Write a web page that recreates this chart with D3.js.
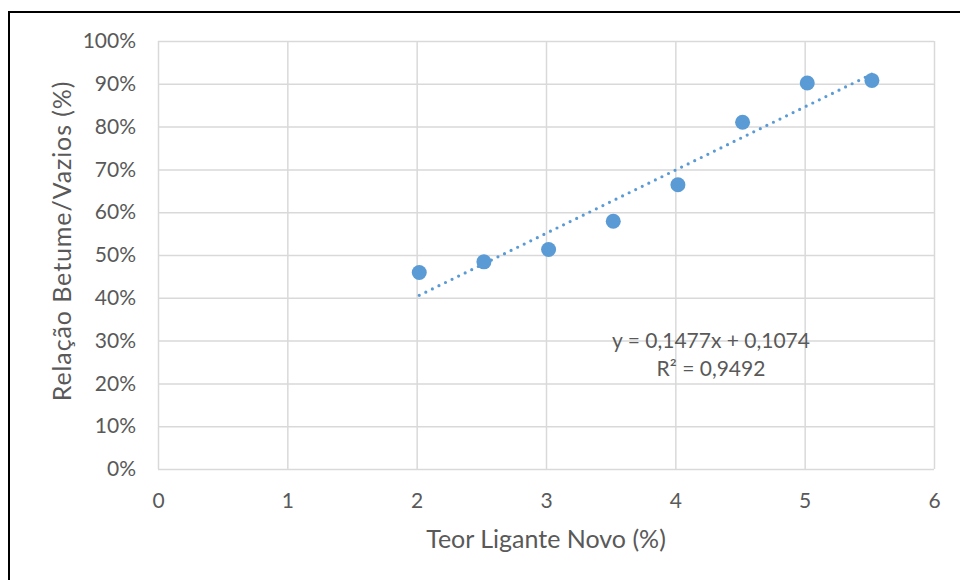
<!DOCTYPE html>
<html>
<head>
<meta charset="utf-8">
<script src="https://cdn.jsdelivr.net/npm/d3@7"></script>
<style>
  body { margin: 0; background: #fff; }
  text { font-family: Lato, "Open Sans", sans-serif; fill: #595959; }
</style>
</head>
<body>
<script>
// data
const teorLigante = [2.02, 2.52, 3.02, 3.52, 4.02, 4.52, 5.02, 5.52]
const relacaoBV = [0.459, 0.484, 0.513, 0.579, 0.664, 0.810, 0.902, 0.908]
const xTicks = [0, 1, 2, 3, 4, 5, 6]
const yTicks = [0, 0.1, 0.2, 0.3, 0.4, 0.5, 0.6, 0.7, 0.8, 0.9, 1.0]
const trendSlope = 0.1477
const trendIntercept = 0.1074
const trendLabel = ['y = 0,1477x + 0,1074', 'R² = 0,9492']

const w = 960
const h = 580
const plotL = 158, plotR = 934, plotT = 41, plotB = 469

const svg = d3.select('body').append('svg')
  .attr('width', w)
  .attr('height', h)

// outer chart frame (only top and left edges show)
svg.append('rect')
  .attr('x', 9)
  .attr('y', 12)
  .attr('width', w + 20)
  .attr('height', h + 20)
  .style('fill', 'none')
  .style('stroke', '#000')
  .style('stroke-width', 2)

const x = d3.scaleLinear().domain([0, 6]).range([plotL, plotR])
const y = d3.scaleLinear().domain([0, 1]).range([plotB, plotT])

const gridColor = '#d9d9d9'

// gridlines
svg.append('g')
  .attr('transform', `translate(0,${plotB})`)
  .call(d3.axisBottom(x).tickValues(xTicks).tickSize(-(plotB - plotT)).tickFormat(''))
  .call(g => g.select('.domain').remove())
  .selectAll('line').style('stroke', gridColor).style('stroke-width', 1.5)

svg.append('g')
  .attr('transform', `translate(${plotL},0)`)
  .call(d3.axisLeft(y).tickValues(yTicks).tickSize(-(plotR - plotL)).tickFormat(''))
  .call(g => g.select('.domain').remove())
  .selectAll('line').style('stroke', gridColor).style('stroke-width', 1.5)

// tick labels
const xAxis = svg.append('g')
  .attr('transform', `translate(0,${plotB})`)
  .call(d3.axisBottom(x).tickValues(xTicks).tickSize(0).tickPadding(24)
    .tickFormat(d3.format('d')))
xAxis.select('.domain').remove()
xAxis.selectAll('text').style('font-size', '21px').style('fill', '#595959')
  .style('font-family', 'Lato, sans-serif')

const yAxis = svg.append('g')
  .attr('transform', `translate(${plotL},0)`)
  .call(d3.axisLeft(y).tickValues(yTicks).tickSize(0).tickPadding(22)
    .tickFormat(d3.format('.0%')))
yAxis.select('.domain').remove()
yAxis.selectAll('text').style('font-size', '21px').style('fill', '#595959')
  .style('font-family', 'Lato, sans-serif')

// axis titles
svg.append('text')
  .attr('x', (plotL + plotR) / 2)
  .attr('y', 548)
  .attr('text-anchor', 'middle')
  .style('font-size', '25px')
  .text('Teor Ligante Novo (%)')

svg.append('text')
  .attr('transform', `translate(71,241) rotate(-90)`)
  .attr('text-anchor', 'middle')
  .style('font-size', '25px')
  .style('letter-spacing', '0.9px')
  .text('Relação Betume/Vazios (%)')

// trend line
const x0 = d3.min(teorLigante), x1 = d3.max(teorLigante)
svg.append('line')
  .attr('x1', x(x0))
  .attr('y1', y(trendSlope * x0 + trendIntercept))
  .attr('x2', x(x1))
  .attr('y2', y(trendSlope * x1 + trendIntercept))
  .style('stroke', '#5b9bd5')
  .style('stroke-width', 3.2)
  .style('stroke-linecap', 'round')
  .style('stroke-dasharray', '0,7.3')

// points
svg.selectAll('circle.pt')
  .data(teorLigante)
  .enter()
  .append('circle')
  .attr('class', 'pt')
  .attr('cx', d => x(d))
  .attr('cy', (d, i) => y(relacaoBV[i]))
  .attr('r', 7.5)
  .style('fill', '#5b9bd5')

// equation label
svg.selectAll('text.eq')
  .data(trendLabel)
  .enter()
  .append('text')
  .attr('class', 'eq')
  .attr('x', 711)
  .attr('y', (d, i) => 348 + i * 28)
  .attr('text-anchor', 'middle')
  .style('font-size', '21px')
  .text(d => d)
</script>
</body>
</html>
